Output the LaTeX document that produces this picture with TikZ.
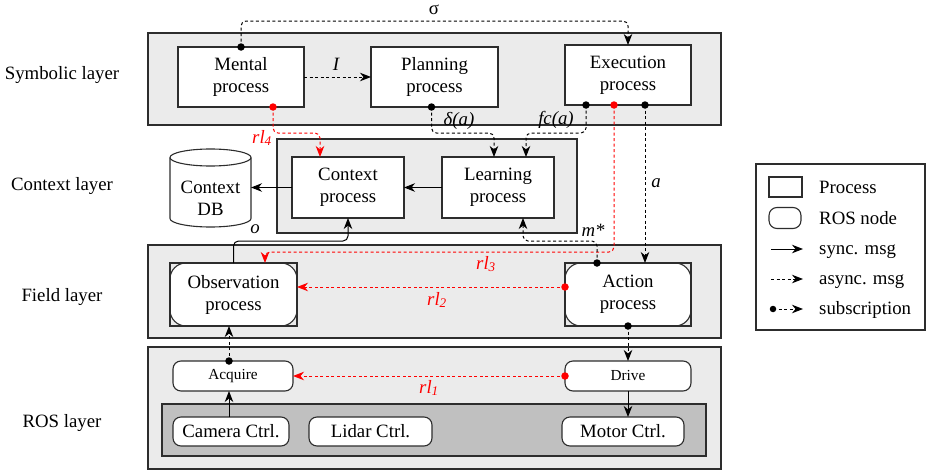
\documentclass[tikz,border=0pt]{standalone}
\usepackage{fontspec}
\setmainfont{Liberation Serif}
\usetikzlibrary{arrows.meta,calc}
\definecolor{bandgray}{RGB}{235,235,235}
\definecolor{darkband}{RGB}{192,192,192}
\definecolor{edgec}{RGB}{45,45,45}
\definecolor{rlred}{RGB}{255,0,0}
\tikzset{
  txt/.style={font=\fontsize{18.8}{22}\selectfont, align=center, inner sep=0pt},
  smalltxt/.style={font=\fontsize{15.3}{18}\selectfont, align=center, inner sep=0pt},
  itl/.style={font=\fontsize{18.8}{22}\selectfont\itshape, inner sep=0pt},
  redl/.style={itl, text=rlred},
  band/.style={draw=edgec, fill=bandgray, line width=1.1pt, inner sep=0pt, outer sep=0pt},
  hwband/.style={band, fill=darkband},
  proc/.style={draw=edgec, fill=white, line width=1.1pt, inner sep=0pt, outer sep=0pt, txt},
  procframe/.style={draw=edgec, line width=1.1pt, inner sep=0pt, outer sep=0pt, txt},
  rosnode/.style={draw=edgec, fill=white, line width=1.1pt, inner sep=0pt, outer sep=0pt, rounded corners=16pt},
  rossmall/.style={draw=edgec, fill=white, line width=1.1pt, inner sep=0pt, outer sep=0pt, rounded corners=8pt},
  sync/.style={draw=black, line width=1pt, -{Stealth[length=11pt,width=8.5pt,inset=3.5pt]}},
  async/.style={sync, dash pattern=on 3pt off 2.5pt},
  rl/.style={async, draw=rlred},
  dot/.style={circle, fill=black, inner sep=0pt, minimum size=7.5pt},
  rdot/.style={dot, fill=rlred},
}
\begin{document}
\begin{tikzpicture}[x=1pt,y=-1pt]
\useasboundingbox (0,0) rectangle (926,471);

% layer labels
\node[txt] (lsym) at (62,75) {Symbolic layer};
\node[txt] (lctx) at (62,186) {Context layer};
\node[txt] (lfld) at (62,297) {Field layer};
\node[txt] (lros) at (62,423) {ROS layer};

% bands
\node[band, minimum width=573pt, minimum height=92pt] (symband) at (434.5,79) {};
\node[band, minimum width=300pt, minimum height=94pt] (ctxband) at (427,186) {};
\node[band, minimum width=573pt, minimum height=93pt] (fieldband) at (434.5,291.5) {};
\node[band, minimum width=573pt, minimum height=122pt] (rosband) at (434.5,408) {};
\node[hwband, minimum width=544pt, minimum height=52pt] (hw) at (434,430) {};

% symbolic layer
\node[proc, minimum width=126pt, minimum height=60pt] (mental) at (241,77) {Mental\\process};
\node[proc, minimum width=127pt, minimum height=60pt] (plan) at (434.5,77) {Planning\\process};
\node[proc, minimum width=126pt, minimum height=60pt] (exec) at (628,75) {Execution\\process};

% context layer
\node[proc, minimum width=112pt, minimum height=61pt] (ctx) at (348,187.5) {Context\\process};
\node[proc, minimum width=112pt, minimum height=61pt] (learn) at (498,187.5) {Learning\\process};
\node[inner sep=0pt, outer sep=0pt, minimum width=81pt, minimum height=78pt] (db) at (210.5,188) {};
\draw[draw=edgec, fill=white, line width=1.1pt]
  (170,157.5) -- (170,218.5)
  arc[start angle=180, end angle=360, x radius=40.5pt, y radius=8.5pt]
  -- (251,157.5)
  arc[start angle=0, end angle=180, x radius=40.5pt, y radius=8.5pt] -- cycle;
\draw[draw=edgec, line width=1.1pt] (170,157.5)
  arc[start angle=180, end angle=360, x radius=40.5pt, y radius=8.5pt];
\node[txt] (dbtext) at (210.5,198) {Context\\DB};

% field layer
\node[rosnode, minimum width=127pt, minimum height=63pt] (obsin) at (233.5,294.5) {};
\node[procframe, minimum width=127pt, minimum height=63pt] (obs) at (233.5,294.5) {Observation\\process};
\node[rosnode, minimum width=126pt, minimum height=63pt] (actin) at (628,294.5) {};
\node[procframe, minimum width=126pt, minimum height=63pt] (act) at (628,294.5) {Action\\process};

% ROS layer
\node[rossmall, smalltxt, minimum width=120pt, minimum height=30pt] (acq) at (233,376) {Acquire};
\node[rossmall, smalltxt, minimum width=126pt, minimum height=30pt] (drive) at (628,376) {Drive};
\node[rossmall, txt, minimum width=116pt, minimum height=29pt] (cam) at (231,431.5) {Camera Ctrl.};
\node[rossmall, txt, minimum width=123pt, minimum height=29pt] (lidar) at (370.5,431.5) {Lidar Ctrl.};
\node[rossmall, txt, minimum width=122pt, minimum height=29pt] (motor) at (623,431.5) {Motor Ctrl.};

% dot positions
\coordinate (dsigc) at (mental.north);
\coordinate (dmrc) at ([xshift=32pt]mental.south);
\coordinate (dplc) at ([xshift=-3pt]plan.south);
\coordinate (de1c) at ([xshift=-42pt]exec.south);
\coordinate (de2c) at ([xshift=-14pt]exec.south);
\coordinate (de3c) at ([xshift=17pt]exec.south);
\coordinate (datc) at ([xshift=-31pt]act.north);
\coordinate (dalc) at ([yshift=7.5pt]act.west);
\coordinate (dabc) at (act.south);
\coordinate (dacqc) at ([xshift=-4pt]acq.north);
\coordinate (ddrc) at (drive.west);

% connectors (rounded corners applied to the segments only)
\draw[async] (dsigc) [rounded corners=5pt] -- ++(0,-26) -| (exec.north);
\node[txt] (sigma) at (434,10) {σ};
\draw[async] (mental.east) -- (plan.west);
\node[itl] (lI) at (336,64) {I};
\draw[async] (dplc) [rounded corners=5pt] -- (dplc |- 0,133) -| ([xshift=-4pt]learn.north);
\node[itl] (ldelta) at (459,121) {δ(a)};
\draw[async] (de1c) [rounded corners=5pt] -- (de1c |- 0,133) -| ([xshift=28pt]learn.north);
\node[itl] (lfc) at (556,120) {fc(a)};
\draw[rl] (dmrc) [rounded corners=5pt] -- (dmrc |- 0,133) -| ([xshift=-28pt]ctx.north);
\node[redl] (lrl4) at (262,138) {rl\textsubscript{4}};
\draw[sync] (learn.west) -- (ctx.east);
\draw[sync] (ctx.west) -- (ctx.west -| db.east);
\draw[async] (de3c) -- (de3c |- act.north);
\node[itl] (la) at (656,183) {a};
\draw[rl] (de2c) [rounded corners=5pt] -- (de2c |- 0,252) -| ([xshift=31.5pt]obs.north);
\node[redl] (lrl3) at (486,264) {rl\textsubscript{3}};
\draw[async] (datc) [rounded corners=5pt] -- (datc |- 0,241) -| ([xshift=25pt]learn.south);
\node[itl] (lm) at (593,230) {m*};
\draw[sync] (obs.north) [rounded corners=5pt] -- (obs.north |- 0,241) -| (ctx.south);
\node[itl] (lo) at (255,229) {o};
\draw[rl] (dalc) -- (dalc -| obs.east);
\node[redl] (lrl2) at (437,300) {rl\textsubscript{2}};
\draw[async] (dacqc) -- (dacqc |- obs.south);
\draw[sync] (dacqc |- cam.north) -- (dacqc |- acq.south);
\draw[async] (dabc) -- (drive.north);
\draw[sync] (drive.south) -- (drive.south |- motor.north);
\draw[rl] (ddrc) -- (acq.east);
\node[redl] (lrl1) at (429,388) {rl\textsubscript{1}};

% dots
\node[dot] (dsig) at (dsigc) {};
\node[rdot] (dmr) at (dmrc) {};
\node[dot] (dpl) at (dplc) {};
\node[dot] (de1) at (de1c) {};
\node[rdot] (de2) at (de2c) {};
\node[dot] (de3) at (de3c) {};
\node[dot] (dat) at (datc) {};
\node[rdot] (dal) at (dalc) {};
\node[dot] (dab) at (dabc) {};
\node[dot] (dacq) at (dacqc) {};
\node[rdot] (ddr) at (ddrc) {};

% legend
\node[draw=edgec, fill=white, line width=1.1pt, inner sep=0pt, outer sep=0pt, minimum width=169pt, minimum height=166pt] (legend) at (840.5,247) {};
\node[draw=edgec, fill=white, line width=1.1pt, inner sep=0pt, minimum width=33pt, minimum height=20pt] (lgproc) at (785.5,187) {};
\node[rossmall, minimum width=32pt, minimum height=21pt] (lgros) at (785,218) {};
\coordinate (ls1) at (771,249); \coordinate (ls2) at (803,249);
\draw[sync] (ls1) -- (ls2);
\coordinate (la1) at (771,279); \coordinate (la2) at (803,279);
\draw[async] (la1) -- (la2);
\coordinate (lb1) at (773,309); \coordinate (lb2) at (803,309);
\draw[async] (lb1) -- (lb2);
\node[dot, minimum size=6.5pt] (lgdot) at (lb1) {};
\node[txt, anchor=base west] (lt1) at (819,193) {Process};
\node[txt, anchor=base west] (lt2) at (819,224) {ROS node};
\node[txt, anchor=base west] (lt3) at (819,254) {sync. msg};
\node[txt, anchor=base west] (lt4) at (819,284) {async. msg};
\node[txt, anchor=base west] (lt5) at (819,314) {subscription};
\end{tikzpicture}
\end{document}
